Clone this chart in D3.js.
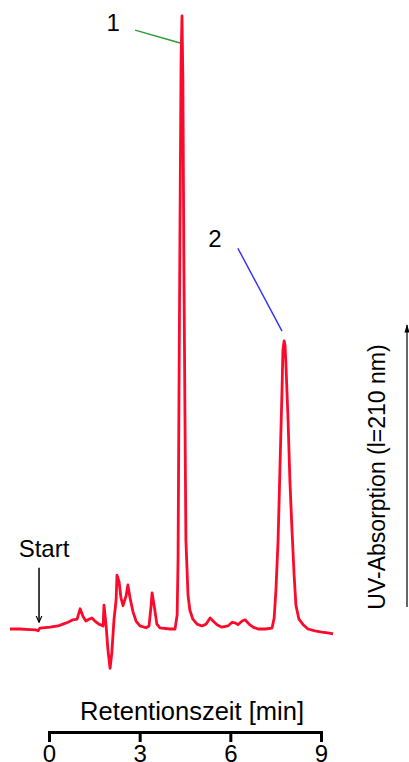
<!DOCTYPE html>
<html>
<head>
<meta charset="utf-8">
<script src="https://cdn.jsdelivr.net/npm/d3@7"></script>
<style>
  body { margin: 0; background: #fff; }
  svg { display: block; font-family: "Liberation Sans", Arial, sans-serif; }
</style>
</head>
<body>
<div id="chart"></div>
<script>
// retention time in minutes
const time = [-1.29, -0.96, -0.63, -0.43, -0.36, -0.30, 0.03, 0.30, 0.46, 0.63, 0.79, 0.93, 1.03, 1.13,
  1.22, 1.32, 1.42, 1.52, 1.65, 1.79, 1.82, 1.89, 1.95, 2.02, 2.08, 2.15, 2.22, 2.25, 2.32, 2.38,
  2.45, 2.55, 2.61, 2.68, 2.78, 2.88, 3.01, 3.21, 3.31, 3.38, 3.41, 3.48, 3.57, 3.67, 4.00, 4.17,
  4.24, 4.27, 4.30, 4.34, 4.37, 4.40, 4.43, 4.46, 4.50, 4.53, 4.60, 4.66, 4.76, 4.90, 5.06, 5.20,
  5.33, 5.43, 5.56, 5.72, 5.92, 6.06, 6.16, 6.25, 6.39, 6.49, 6.62, 6.75, 6.92, 7.15, 7.38, 7.45,
  7.51, 7.58, 7.64, 7.71, 7.74, 7.78, 7.81, 7.84, 7.91, 7.97, 8.04, 8.11, 8.17, 8.27, 8.41, 8.57,
  8.80, 9.03, 9.23, 9.40];
// UV absorption, relative units (peak 1 = 100)
const signal = [0, 0, -0.1, -0.15, -0.3, 0.15, 0.3, 0.5, 0.8, 1.1, 1.5, 1.6, 3.3, 2.0,
  1.3, 1.6, 1.8, 1.3, 0.8, 0.5, 3.9, 0.5, -3.4, -6.4, -3.8, 1.5, 4.7, 8.8, 7.7, 5.1,
  3.8, 5.4, 7.2, 5.1, 2.8, 1.3, 0.5, 0.2, 0.5, 3.9, 5.9, 3.8, 0.8, 0.2, 0, 0,
  2.3, 11.3, 37.4, 70, 92.8, 100, 89.6, 61.8, 34.1, 14.5, 5.5, 3.1, 1.6, 0.8, 0.5, 0.8,
  1.8, 1.3, 0.7, 0.3, 0.5, 1.1, 1.0, 0.7, 1.3, 1.5, 0.8, 0.3, 0, 0, 0.15, 1.8,
  6.4, 14.5, 25.9, 39, 45.5, 47, 46.3, 43.1, 34.1, 24.3, 16.2, 8.8, 3.9, 1.6, 0.7, 0,
  -0.3, -0.5, -0.65, -0.8];

const xTicks = [0, 3, 6, 9];
const peakLabels = ["1", "2"];
const peakLabelTime = [2.12, 5.49];
const peakLabelSignal = [97.5, 62.3];
const leaderFromTime = [2.85, 6.25];
const leaderFromSignal = [97.7, 62.1];
const leaderToTime = [4.34, 7.71];
const leaderToSignal = [95.6, 48.6];
const leaderColors = ["#2b9a35", "#2f2fff"];
const startTime = -0.33;
const startArrowSignal = [10.0, 1.1];

const width = 409, height = 762;

const svg = d3.select("#chart").append("svg")
  .attr("width", width)
  .attr("height", height);

const x = d3.scaleLinear().domain([0, 9]).range([49, 321]);
const y = d3.scaleLinear().domain([0, 100]).range([629, 16]);

const data = time.map((t, i) => ({ t, s: signal[i] }));

const line = d3.line()
  .x(d => x(d.t))
  .y(d => y(d.s));

svg.append("path")
  .datum(data)
  .attr("fill", "none")
  .attr("stroke", "#fb0a2c")
  .attr("stroke-width", 2.8)
  .attr("stroke-linejoin", "round")
  .attr("d", line);

// peak labels with leader lines
peakLabels.forEach((lab, i) => {
  svg.append("line")
    .attr("x1", x(leaderFromTime[i])).attr("y1", y(leaderFromSignal[i]))
    .attr("x2", x(leaderToTime[i])).attr("y2", y(leaderToSignal[i]))
    .attr("stroke", leaderColors[i])
    .attr("stroke-width", 1.4);
  svg.append("text")
    .attr("x", x(peakLabelTime[i]))
    .attr("y", y(peakLabelSignal[i]))
    .attr("font-size", 24)
    .attr("text-anchor", "middle")
    .text(lab);
});

// start marker
const defs = svg.append("defs");
defs.append("marker")
  .attr("id", "head")
  .attr("viewBox", "0 0 10 10")
  .attr("refX", 9).attr("refY", 5)
  .attr("markerWidth", 5).attr("markerHeight", 5)
  .attr("markerUnits", "strokeWidth")
  .attr("orient", "auto")
  .append("path")
  .attr("d", "M0,1 L9,5 L0,9")
  .attr("fill", "none")
  .attr("stroke", "#000")
  .attr("stroke-width", 1.5);

svg.append("line")
  .attr("x1", x(startTime)).attr("y1", y(startArrowSignal[0]))
  .attr("x2", x(startTime)).attr("y2", y(startArrowSignal[1]))
  .attr("stroke", "#000")
  .attr("stroke-width", 1.5)
  .attr("marker-end", "url(#head)");

svg.append("text")
  .attr("x", 44)
  .attr("y", 557)
  .attr("font-size", 24)
  .attr("text-anchor", "middle")
  .text("Start");

// y axis: arrow + label
defs.append("marker")
  .attr("id", "headUp")
  .attr("viewBox", "0 0 10 10")
  .attr("refX", 9).attr("refY", 5)
  .attr("markerWidth", 7).attr("markerHeight", 7)
  .attr("orient", "auto")
  .append("path")
  .attr("d", "M0,2 L10,5 L0,8 Z")
  .attr("fill", "#000");

svg.append("line")
  .attr("x1", 407).attr("y1", 607)
  .attr("x2", 407).attr("y2", 325)
  .attr("stroke", "#000")
  .attr("stroke-width", 1.2)
  .attr("marker-end", "url(#headUp)");

svg.append("text")
  .attr("transform", "translate(385,477) rotate(-90)")
  .attr("font-size", 23)
  .attr("text-anchor", "middle")
  .text("UV-Absorption (l=210 nm)");

// x axis
const xAxis = svg.append("g")
  .attr("transform", "translate(0,731)")
  .call(d3.axisBottom(x).tickValues(xTicks).tickSize(11).tickSizeOuter(0).tickPadding(3));

xAxis.select(".domain").attr("stroke-width", 3).attr("d", `M${x(0)},1.5H${x(9)}`);
xAxis.selectAll(".tick line").attr("stroke-width", 3);
xAxis.selectAll(".tick text")
  .attr("font-size", 24)
  .attr("font-family", "Liberation Sans, Arial, sans-serif");

svg.append("text")
  .attr("x", 192)
  .attr("y", 720)
  .attr("font-size", 25.5)
  .attr("text-anchor", "middle")
  .text("Retentionszeit [min]");
</script>
</body>
</html>
